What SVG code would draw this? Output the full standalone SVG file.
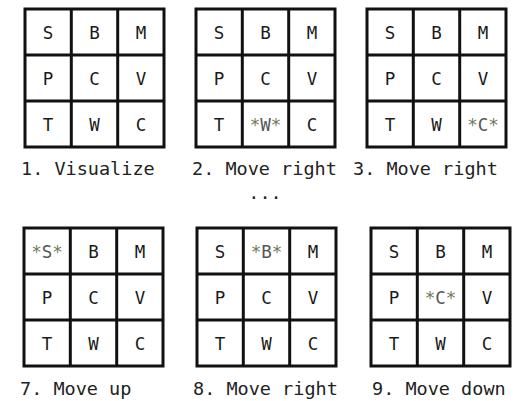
<svg xmlns="http://www.w3.org/2000/svg" xmlns:xlink="http://www.w3.org/1999/xlink" width="515" height="401" viewBox="0 0 515 401">
<style>
.cell{font-family:"DejaVu Sans Mono","Liberation Mono",monospace;font-size:17.5px;fill:#1a1a1a;text-anchor:middle}
.ast{fill:#6f7a5c}
.hl{fill:#555}
.lbl{font-family:"DejaVu Sans Mono","Liberation Mono",monospace;font-size:18.5px;fill:#222}
</style>
<defs>
<g id="grid" fill="none" stroke="#111" stroke-width="3">
<rect x="0" y="0" width="139" height="138"/>
<line x1="46.3" y1="0" x2="46.3" y2="138"/>
<line x1="92.7" y1="0" x2="92.7" y2="138"/>
<line x1="0" y1="46" x2="139" y2="46"/>
<line x1="0" y1="92" x2="139" y2="92"/>
</g>
</defs>
<rect width="515" height="401" fill="#fff"/>

<g id="step1" transform="translate(25,9)">
<use xlink:href="#grid"/>
<text class="cell" x="23" y="29.5">S</text><text class="cell" x="69.5" y="29.5">B</text><text class="cell" x="116" y="29.5">M</text>
<text class="cell" x="23" y="75.5">P</text><text class="cell" x="69.5" y="75.5">C</text><text class="cell" x="116" y="75.5">V</text>
<text class="cell" x="23" y="121.5">T</text><text class="cell" x="69.5" y="121.5">W</text><text class="cell" x="116" y="121.5">C</text>
<text class="lbl" x="-4" y="166">1. Visualize</text>
</g>

<g id="step2" transform="translate(196,9)">
<use xlink:href="#grid"/>
<text class="cell" x="23" y="29.5">S</text><text class="cell" x="69.5" y="29.5">B</text><text class="cell" x="116" y="29.5">M</text>
<text class="cell" x="23" y="75.5">P</text><text class="cell" x="69.5" y="75.5">C</text><text class="cell" x="116" y="75.5">V</text>
<text class="cell" x="23" y="121.5">T</text><text class="cell" x="69.5" y="121.5"><tspan class="ast">*</tspan><tspan class="hl">W</tspan><tspan class="ast">*</tspan></text><text class="cell" x="116" y="121.5">C</text>
<text class="lbl" x="-4" y="166">2. Move right</text>
</g>

<g id="step3" transform="translate(367,9)">
<use xlink:href="#grid"/>
<text class="cell" x="23" y="29.5">S</text><text class="cell" x="69.5" y="29.5">B</text><text class="cell" x="116" y="29.5">M</text>
<text class="cell" x="23" y="75.5">P</text><text class="cell" x="69.5" y="75.5">C</text><text class="cell" x="116" y="75.5">V</text>
<text class="cell" x="23" y="121.5">T</text><text class="cell" x="69.5" y="121.5">W</text><text class="cell" x="116" y="121.5"><tspan class="ast">*</tspan><tspan class="hl">C</tspan><tspan class="ast">*</tspan></text>
<text class="lbl" x="-14" y="166">3. Move right</text>
</g>

<text id="ellipsis" class="lbl" x="265" y="199" text-anchor="middle">...</text>

<g id="step7" transform="translate(24,228)">
<use xlink:href="#grid"/>
<text class="cell" x="23" y="29.5"><tspan class="ast">*</tspan><tspan class="hl">S</tspan><tspan class="ast">*</tspan></text><text class="cell" x="69.5" y="29.5">B</text><text class="cell" x="116" y="29.5">M</text>
<text class="cell" x="23" y="75.5">P</text><text class="cell" x="69.5" y="75.5">C</text><text class="cell" x="116" y="75.5">V</text>
<text class="cell" x="23" y="121.5">T</text><text class="cell" x="69.5" y="121.5">W</text><text class="cell" x="116" y="121.5">C</text>
<text class="lbl" x="-4" y="167">7. Move up</text>
</g>

<g id="step8" transform="translate(197,228)">
<use xlink:href="#grid"/>
<text class="cell" x="23" y="29.5">S</text><text class="cell" x="69.5" y="29.5"><tspan class="ast">*</tspan><tspan class="hl">B</tspan><tspan class="ast">*</tspan></text><text class="cell" x="116" y="29.5">M</text>
<text class="cell" x="23" y="75.5">P</text><text class="cell" x="69.5" y="75.5">C</text><text class="cell" x="116" y="75.5">V</text>
<text class="cell" x="23" y="121.5">T</text><text class="cell" x="69.5" y="121.5">W</text><text class="cell" x="116" y="121.5">C</text>
<text class="lbl" x="-4" y="167">8. Move right</text>
</g>

<g id="step9" transform="translate(371,228)">
<use xlink:href="#grid"/>
<text class="cell" x="23" y="29.5">S</text><text class="cell" x="69.5" y="29.5">B</text><text class="cell" x="116" y="29.5">M</text>
<text class="cell" x="23" y="75.5">P</text><text class="cell" x="69.5" y="75.5"><tspan class="ast">*</tspan><tspan class="hl">C</tspan><tspan class="ast">*</tspan></text><text class="cell" x="116" y="75.5">V</text>
<text class="cell" x="23" y="121.5">T</text><text class="cell" x="69.5" y="121.5">W</text><text class="cell" x="116" y="121.5">C</text>
<text class="lbl" x="1" y="167">9. Move down</text>
</g>
</svg>
